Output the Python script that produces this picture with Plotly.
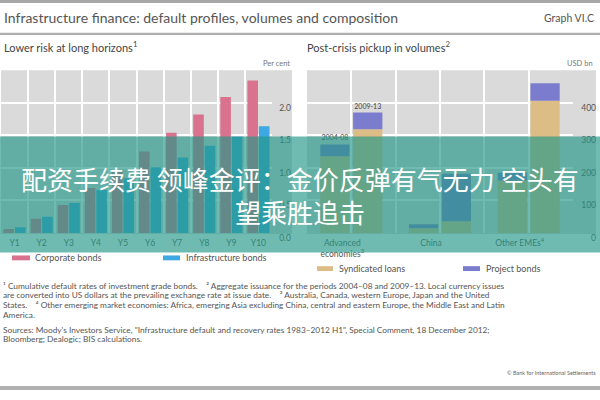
import plotly.graph_objects as go

W, H = 600, 400
def px(x): return x / W
def py(y): return 1 - y / H

# ---------------- data ----------------
horizons = ["Y1", "Y2", "Y3", "Y4", "Y5", "Y6", "Y7", "Y8", "Y9", "Y10"]
corporate_bonds = [0.06, 0.22, 0.43, 0.69, 0.95, 1.25, 1.54, 1.82, 2.09, 2.34]
infrastructure_bonds = [0.09, 0.25, 0.46, 0.66, 0.84, 1.01, 1.16, 1.34, 1.48, 1.64]
left_ticks = [0, 0.5, 1.0, 1.5, 2.0]
left_ticktext = ["0.0", "0.5", "1.0", "1.5", "2.0"]

regions = ["Advanced<br>economies<sup>3</sup>", "China", "Other EMEs<sup>4</sup>"]
periods = ["2004–08", "2009–13"]
syndicated_loans = {"2004–08": [236, 15, 161], "2009–13": [319, 36, 406]}
project_bonds = {"2004–08": [36, 12, 24], "2009–13": [51, 146, 54]}
right_ticks = [0, 100, 200, 300, 400]

footnotes = [
    "¹ Cumulative default rates of investment grade bonds.    ² Aggregate issuance for the periods 2004–08 and 2009–13. Local currency issues",
    "are converted into US dollars at the prevailing exchange rate at issue date.    ³ Australia, Canada, western Europe, Japan and the United",
    "States.    ⁴ Other emerging market economies: Africa, emerging Asia excluding China, central and eastern Europe, the Middle East and Latin",
    "America.",
]
sources = [
    "Sources: Moody's Investors Service, \"Infrastructure default and recovery rates 1983–2012 H1\", Special Comment, 18 December 2012;",
    "Bloomberg; Dealogic; BIS calculations.",
]

# ---------------- style ----------------
PINK = "#d9728e"
BLUE = "#3ea8e2"
TAN = "#dcbd86"
PURPLE = "#7c7ccf"
GRAY_BG = "#dadada"
TXT = "#555555"
FONT = "Lato"

fig = go.Figure()

fig.add_trace(go.Bar(x=horizons, y=corporate_bonds, marker_color=PINK,
                     marker_line_width=0, xaxis="x", yaxis="y", name="Corporate bonds"))
fig.add_trace(go.Bar(x=horizons, y=infrastructure_bonds, marker_color=BLUE,
                     marker_line_width=0, xaxis="x", yaxis="y", name="Infrastructure bonds"))

xpos = list(range(len(regions)))
offsets = {"2004–08": -0.35, "2009–13": 0.02}
for p in periods:
    loans = syndicated_loans[p]
    bonds = project_bonds[p]
    fig.add_trace(go.Bar(x=xpos, y=loans, base=[0] * len(loans), offset=offsets[p], width=0.33,
                         marker_color=TAN, marker_line_width=0, xaxis="x2", yaxis="y2"))
    fig.add_trace(go.Bar(x=xpos, y=bonds, base=loans, offset=offsets[p], width=0.33,
                         marker_color=PURPLE, marker_line_width=0, xaxis="x2", yaxis="y2",
                         text=[p.replace("–", "-"), "", ""], textposition="outside",
                         constraintext="none", cliponaxis=False,
                         textfont=dict(size=7, color="#444", family=FONT)))

axis_common = dict(showline=False, zeroline=False, ticks="", gridcolor="white", gridwidth=2)

fig.update_layout(
    width=W, height=H, margin=dict(l=0, r=0, t=0, b=0),
    paper_bgcolor="white", plot_bgcolor="rgba(0,0,0,0)",
    showlegend=False, bargap=0.15, bargroupgap=0.08, barmode="group",
    font=dict(family=FONT, color=TXT, size=8),
    xaxis=dict(domain=[px(1), px(272)], anchor="y", type="category", tickson="boundaries",
               showgrid=True, tickfont=dict(size=8.5, color=TXT), ticklabelstandoff=3,
               **axis_common),
    yaxis=dict(domain=[py(239), py(72)], range=[0, 2.5], anchor="free", position=px(291),
               side="left", tickvals=left_ticks, ticktext=left_ticktext, showgrid=True,
               tickfont=dict(size=8.5, color=TXT), ticklabelshift=5, **axis_common),
    xaxis2=dict(domain=[px(307), px(573)], anchor="y2", range=[-0.5, 2.5],
                tickvals=xpos, ticktext=regions, showgrid=True, ticklabelshift=-9,
                minor=dict(tickvals=[-0.5, 0.5, 1.5, 2.5], showgrid=True, gridcolor="white", gridwidth=2),
                tickfont=dict(size=8.5, color=TXT), ticklabelstandoff=3, **axis_common),
    yaxis2=dict(domain=[py(239), py(72)], range=[0, 500], anchor="free", position=px(596),
                side="left", tickvals=right_ticks, showgrid=True,
                tickfont=dict(size=8.5, color=TXT), ticklabelshift=5, **axis_common),
)

shapes = [
    # gray panel backgrounds (including tick label strip)
    dict(type="rect", xref="paper", yref="paper", x0=px(1), x1=px(292), y0=py(240), y1=py(72),
         fillcolor=GRAY_BG, line_width=0, layer="below"),
    dict(type="rect", xref="paper", yref="paper", x0=px(307), x1=px(596), y0=py(240), y1=py(72),
         fillcolor=GRAY_BG, line_width=0, layer="below"),
    # header/footer rules
    dict(type="rect", xref="paper", yref="paper", x0=0, x1=1, y0=py(3), y1=py(0),
         fillcolor="#a8a8a8", line_width=0, layer="below"),
    dict(type="rect", xref="paper", yref="paper", x0=0, x1=1, y0=py(36), y1=py(33.5),
         fillcolor="#b0b0b0", line_width=0, layer="below"),
    dict(type="rect", xref="paper", yref="paper", x0=0, x1=1, y0=py(400), y1=py(396),
         fillcolor="#b0b0b0", line_width=0, layer="below"),
    # legend swatches
    dict(type="rect", xref="paper", yref="paper", x0=px(12), x1=px(30), y0=py(267), y1=py(262),
         fillcolor=PINK, line_width=0),
    dict(type="rect", xref="paper", yref="paper", x0=px(163), x1=px(180), y0=py(267), y1=py(262),
         fillcolor=BLUE, line_width=0),
    dict(type="rect", xref="paper", yref="paper", x0=px(317), x1=px(333), y0=py(278), y1=py(273),
         fillcolor=TAN, line_width=0),
    dict(type="rect", xref="paper", yref="paper", x0=px(463), x1=px(480), y0=py(278), y1=py(273),
         fillcolor=PURPLE, line_width=0),
    # overlay banner
    dict(type="rect", xref="paper", yref="paper", x0=0, x1=1, y0=py(259), y1=py(140),
         fillcolor="rgba(35,150,135,0.65)", line_width=0, layer="above"),
]
fig.update_layout(shapes=shapes)

def ann(text, x, y, size, color=TXT, xanchor="left", family=FONT, **kw):
    fig.add_annotation(text=text, x=px(x), y=py(y), xref="paper", yref="paper",
                       xanchor=xanchor, yanchor="middle", showarrow=False,
                       font=dict(size=size, color=color, family=family), **kw)

ann("Infrastructure finance: default profiles, volumes and composition", 2, 18, 14, "#555")
ann("Graph VI.C", 596, 18, 10.5, "#555", xanchor="right")
ann("Lower risk at long horizons<sup>1</sup>", 2, 48, 11, "#444")
ann("Post-crisis pickup in volumes<sup>2</sup>", 305, 48, 11, "#444")
ann("Per cent", 292, 65, 7.5, "#777", xanchor="right")
ann("USD bn", 595, 65, 7.5, "#777", xanchor="right")

ann("Corporate bonds", 33, 264.5, 9)
ann("Infrastructure bonds", 184, 264.5, 9)
ann("Syndicated loans", 337, 275.5, 9)
ann("Project bonds", 484, 275.5, 9)

for i, line in enumerate(footnotes):
    ann(line, 1, 293 + 10 * i, 8.3)
for i, line in enumerate(sources):
    ann(line, 1, 338 + 10 * i, 8.3)
ann("© Bank for International Settlements", 598, 383, 5.5, "#666", xanchor="right")

ann("配资手续费 领峰金评：金价反弹有气无力 空头有", 300, 183, 26, "white", xanchor="center",
    family="Noto Sans CJK SC")
ann("望乘胜追击", 300, 217, 26, "white", xanchor="center", family="Noto Sans CJK SC")

fig.write_html("out.html")
